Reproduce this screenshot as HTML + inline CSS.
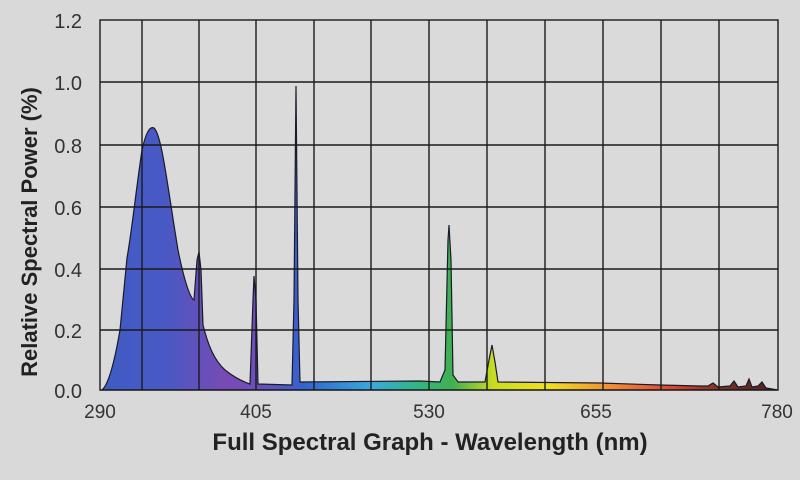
<!DOCTYPE html>
<html><head><style>
html,body{margin:0;padding:0;background:#d9d9d9;}
svg{display:block}
</style></head><body>
<svg width="800" height="480" viewBox="0 0 800 480" xmlns="http://www.w3.org/2000/svg">
<defs>
<linearGradient id="g" gradientUnits="userSpaceOnUse" x1="100" y1="0" x2="778" y2="0">
<stop offset="0" stop-color="#3e5cc4"/>
<stop offset="0.10" stop-color="#4a58c4"/>
<stop offset="0.19" stop-color="#7a4ab4"/>
<stop offset="0.24" stop-color="#6650c0"/>
<stop offset="0.30" stop-color="#3263d0"/>
<stop offset="0.40" stop-color="#3aa8dc"/>
<stop offset="0.47" stop-color="#30b880"/>
<stop offset="0.52" stop-color="#40b050"/>
<stop offset="0.58" stop-color="#c8dc20"/>
<stop offset="0.66" stop-color="#f2e020"/>
<stop offset="0.76" stop-color="#f08838"/>
<stop offset="0.84" stop-color="#e04830"/>
<stop offset="0.92" stop-color="#7a3020"/>
<stop offset="1" stop-color="#4a2020"/>
</linearGradient>
</defs>
<rect x="100" y="20" width="678" height="370" fill="#dadada"/>
<path d="M102,390 C108,385 114,365 120,330 L127,258 C132,230 136,190 142,150 C146,132 150,126 154,128 C162,135 168,190 178,250 C184,280 190,298 194,300 L197,260 L199,252 L201,270 L203,325 C208,345 214,360 225,370 C235,378 244,382 250,384 L253,300 L254,276 L256,300 L258,384 L292,385 L294,300 L296,86 L298,300 L300,382 L420,381 L440,382 L445,370 L448,240 L449,225 L451,260 L453,375 L458,382 L485,382 L489,360 L492,345 L495,362 L498,382 L600,383 L660,385 L700,386 L708,386 L713,383 L718,387 L730,386 L734,381 L738,387 L746,386 L749,379 L752,387 L758,386 L762,382 L766,388 L778,390 Z" fill="url(#g)" stroke="#1a1a2a" stroke-width="1.2"/>
<g stroke="#1a1a1a" stroke-width="1.4" fill="none">
<rect x="100" y="20" width="678" height="370"/>
<line x1="142" y1="20" x2="142" y2="390"/><line x1="199" y1="20" x2="199" y2="390"/>
<line x1="256" y1="20" x2="256" y2="390"/><line x1="314" y1="20" x2="314" y2="390"/>
<line x1="371" y1="20" x2="371" y2="390"/><line x1="429" y1="20" x2="429" y2="390"/>
<line x1="487" y1="20" x2="487" y2="390"/><line x1="545" y1="20" x2="545" y2="390"/>
<line x1="603" y1="20" x2="603" y2="390"/><line x1="661" y1="20" x2="661" y2="390"/>
<line x1="719" y1="20" x2="719" y2="390"/>
<line x1="100" y1="82" x2="778" y2="82"/><line x1="100" y1="145" x2="778" y2="145"/>
<line x1="100" y1="207" x2="778" y2="207"/><line x1="100" y1="269" x2="778" y2="269"/>
<line x1="100" y1="330" x2="778" y2="330"/>
</g>
<g font-family="Liberation Sans, sans-serif" font-size="20" fill="#333" text-anchor="end">
<text x="82" y="28">1.2</text><text x="82" y="90">1.0</text><text x="82" y="153">0.8</text>
<text x="82" y="215">0.6</text><text x="82" y="277">0.4</text><text x="82" y="338">0.2</text>
<text x="82" y="398">0.0</text>
</g>
<g font-family="Liberation Sans, sans-serif" font-size="19" fill="#333" text-anchor="middle">
<text x="100" y="418">290</text><text x="256" y="418">405</text><text x="429" y="418">530</text>
<text x="596" y="418">655</text><text x="777" y="418">780</text>
</g>
<text x="430" y="450" font-family="Liberation Sans, sans-serif" font-size="24" font-weight="bold" fill="#222" text-anchor="middle">Full Spectral Graph - Wavelength (nm)</text>
<text transform="translate(37,232) rotate(-90)" font-family="Liberation Sans, sans-serif" font-size="22" font-weight="bold" fill="#222" text-anchor="middle">Relative Spectral Power (%)</text>
</svg>
</body></html>
